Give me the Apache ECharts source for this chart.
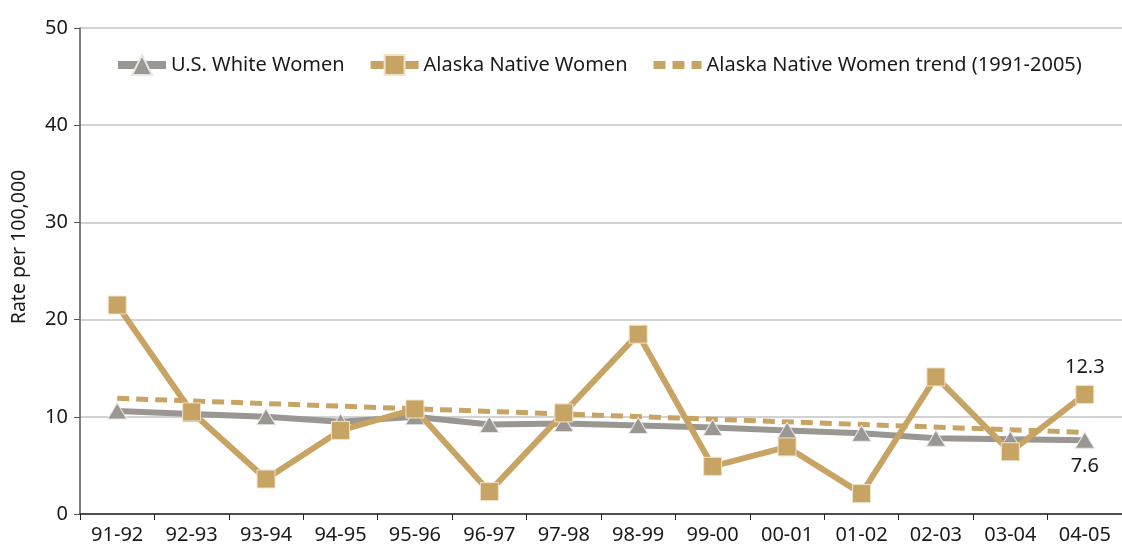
<!DOCTYPE html>
<html>
<head>
<meta charset="utf-8">
<script src="https://cdn.jsdelivr.net/npm/echarts@6/dist/echarts.min.js"></script>
<style>
  html, body { margin: 0; padding: 0; background: #fff; overflow: hidden; }
  #chart { width: 1122px; height: 545px; }
</style>
</head>
<body>
<div id="chart"></div>
<script>
const years = ['91-92', '92-93', '93-94', '94-95', '95-96', '96-97', '97-98',
  '98-99', '99-00', '00-01', '01-02', '02-03', '03-04', '04-05'];
const usWhite = [10.6, 10.3, 10.0, 9.5, 10.0, 9.2, 9.3, 9.1, 8.9, 8.6, 8.3, 7.8, 7.7, 7.6];
const alaskaNative = [21.5, 10.5, 3.6, 8.6, 10.8, 2.3, 10.4, 18.5, 4.9, 6.9, 2.1, 14.1, 6.4, 12.3];
// trend line read at its two ends only, drawn straight between them
const alaskaTrend = [11.9, null, null, null, null, null, null, null, null, null, null, null, null, 8.4];

const gray = '#9a9692';
const gold = '#c8a464';
const font = 'Noto Sans';

const chart = echarts.init(document.getElementById('chart'));

// label only on the last point
function lastLabel(arr, pos) {
  return arr.map((v, i) => i === arr.length - 1
    ? { value: v, label: { show: true, position: pos, distance: 8, fontSize: 20, color: '#1a1a1a', fontFamily: font } }
    : v);
}

chart.setOption({
  animation: false,
  textStyle: { fontFamily: font },
  legend: {
    left: 109,
    top: 49,
    width: 1010,
    itemWidth: 48,
    itemHeight: 25,
    itemGap: 22,
    lineStyle: { width: 8 },
    textStyle: { fontSize: 20, color: '#1a1a1a', fontFamily: font },
    data: [
      'U.S. White Women',
      'Alaska Native Women',
      { name: 'Alaska Native Women trend (1991-2005)', itemStyle: { color: 'rgba(0,0,0,0)', borderWidth: 0 } }
    ]
  },
  grid: { left: 80, top: 28, right: -4, height: 488 },
  xAxis: {
    type: 'category',
    data: years,
    boundaryGap: true,
    axisLine: { lineStyle: { color: '#222', width: 1.5 } },
    axisTick: { show: true, length: 6, lineStyle: { color: '#222' } },
    axisLabel: { fontSize: 20, color: '#1a1a1a', margin: 11 }
  },
  yAxis: {
    type: 'value',
    min: 0,
    max: 50,
    interval: 10,
    name: 'Rate per 100,000',
    nameLocation: 'middle',
    nameRotate: 90,
    nameGap: 51,
    nameTextStyle: { fontSize: 19.5, color: '#1a1a1a', padding: [0, 0, 0, 48] },
    axisLine: { show: true, lineStyle: { color: '#555', width: 1.5 } },
    axisTick: { show: true, length: 6, lineStyle: { color: '#555' } },
    axisLabel: { fontSize: 20, color: '#1a1a1a', margin: 12 },
    splitLine: { lineStyle: { color: '#c4c4c4', width: 1.5 } }
  },
  series: [
    {
      name: 'Alaska Native Women trend (1991-2005)',
      type: 'line',
      data: alaskaTrend,
      connectNulls: true,
      symbol: 'none',
      z: 1,
      lineStyle: { color: gold, width: 5, type: [12, 7] },
      itemStyle: { color: gold }
    },
    {
      name: 'U.S. White Women',
      type: 'line',
      data: lastLabel(usWhite, 'bottom'),
      symbol: 'triangle',
      symbolSize: [19, 16],
      z: 2,
      lineStyle: { color: gray, width: 6 },
      itemStyle: { color: gray, borderColor: '#e8e6e4', borderWidth: 1 }
    },
    {
      name: 'Alaska Native Women',
      type: 'line',
      data: lastLabel(alaskaNative, 'top'),
      symbol: 'rect',
      symbolSize: 18,
      z: 3,
      lineStyle: { color: gold, width: 6 },
      itemStyle: { color: gold, borderColor: '#efe3cc', borderWidth: 1 }
    }
  ]
});
</script>
</body>
</html>
